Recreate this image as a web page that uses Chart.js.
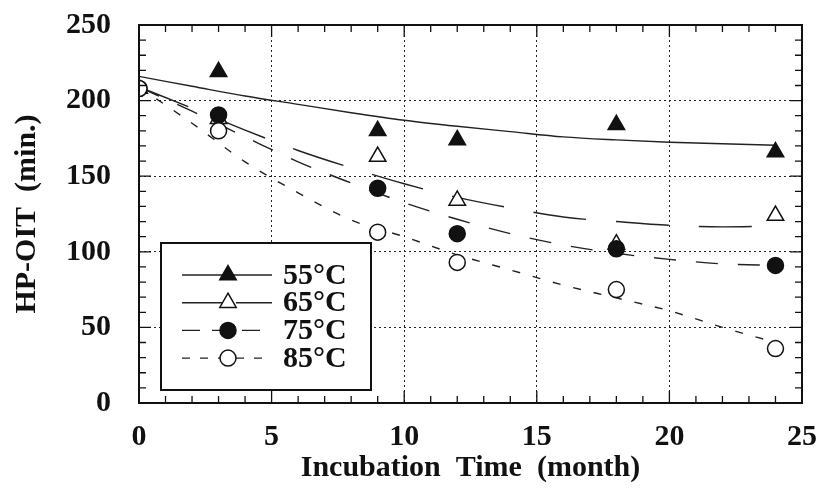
<!DOCTYPE html>
<html>
<head>
<meta charset="utf-8">
<script src="https://cdn.jsdelivr.net/npm/chart.js@4.4.1/dist/chart.umd.min.js"></script>
<style>
  body { margin: 0; background: #fff; }
  #wrap { width: 821px; height: 489px; position: relative; }
</style>
</head>
<body>
<div id="wrap"><canvas id="oitChart"></canvas></div>
<script>
// measured HP-OIT (min.) at each incubation time (month)
const months = [0, 3, 9, 12, 18, 24];
const oit55 = [208, 219, 180, 174, 184, 166];
const oit65 = [208, 188, 163, 134, 105, 124];
const oit75 = [208, 190.5, 142, 112, 102, 91];
const oit85 = [208, 180, 113, 93, 75, 36];

// fitted curves
const fitMonths = [0, 2, 4, 6, 8, 10, 12, 14, 16, 18, 20, 22, 24];
const fit55 = [216, 209.5, 203, 197.5, 192, 187, 183, 179.5, 176, 174, 172.5, 171.5, 170.5];
const fit65 = [209, 195, 180.5, 167, 155.5, 145, 136, 129, 123, 120, 117.5, 116.5, 117];
const fit75 = [209, 193, 176, 159.5, 145.5, 132.5, 121.5, 112, 104.5, 99, 95, 92, 91];
const fit85 = [209, 185, 159.5, 139, 121, 110, 98, 88, 78, 69.5, 61, 50, 40];

const seriesLabels = ['55°C', '65°C', '75°C', '85°C'];
const xTicks = [0, 5, 10, 15, 20, 25];
const yTicks = [0, 50, 100, 150, 200, 250];

const serif = '"Liberation Serif", "Times New Roman", serif';
const ink = '#111';

// line style + marker per temperature
const styles = [
    { dash: [], legendDash: [], marker: 'triangle', fill: ink },
    { dash: [53, 30], legendDash: [40, 14], marker: 'triangle', fill: '#fff' },
    { dash: [22, 20], legendDash: [18, 12], marker: 'circle', fill: ink },
    { dash: [8, 13], legendDash: [8, 10], marker: 'circle', fill: '#fff' }
];

const pts = (xs, ys) => xs.map((x, i) => ({ x: x, y: ys[i] }));

const fits = [fit55, fit65, fit75, fit85];
const measured = [oit55, oit65, oit75, oit85];

const datasets = [];
fits.forEach((f, i) => {
    datasets.push({
        label: seriesLabels[i] + ' fit',
        data: pts(fitMonths, f),
        showLine: true,
        borderColor: '#222',
        borderWidth: 1.4,
        borderDash: styles[i].dash,
        pointRadius: 0,
        cubicInterpolationMode: 'monotone',
        fill: false,
        order: 10
    });
});
measured.forEach((m, i) => {
    datasets.push({
        label: seriesLabels[i],
        data: pts(months, m),
        showLine: false,
        pointStyle: styles[i].marker,
        pointRadius: styles[i].marker === 'triangle' ? 9.5 : 8,
        pointBackgroundColor: styles[i].fill,
        pointBorderColor: ink,
        pointBorderWidth: 1.5,
        order: 4 - i
    });
});

// frame box and inward minor ticks on all four sides
const framePlugin = {
    id: 'frame',
    afterDatasetsDraw(chart) {
        const { ctx, chartArea: a, scales: { x, y } } = chart;
        ctx.save();
        ctx.strokeStyle = ink;
        ctx.lineWidth = 1.3;
        ctx.beginPath();
        for (let m = 0; m <= 25; m++) {
            const px = x.getPixelForValue(m);
            const len = m % 5 === 0 ? 12 : 7;
            ctx.moveTo(px, a.bottom); ctx.lineTo(px, a.bottom - len);
            ctx.moveTo(px, a.top); ctx.lineTo(px, a.top + len);
        }
        for (let v = 0; v <= 250; v += 10) {
            const py = y.getPixelForValue(v);
            const len = v % 50 === 0 ? 12 : 7;
            ctx.moveTo(a.left, py); ctx.lineTo(a.left + len, py);
            ctx.moveTo(a.right, py); ctx.lineTo(a.right - len, py);
        }
        ctx.stroke();
        ctx.lineWidth = 2;
        ctx.strokeRect(a.left, a.top, a.width, a.height);
        ctx.restore();
    }
};

// boxed legend inside the plot, lower left
const legendPlugin = {
    id: 'boxLegend',
    afterDraw(chart) {
        const { ctx, chartArea: a } = chart;
        const left = a.left + 22, top = a.top + 218, w = 210, h = 147;
        ctx.save();
        ctx.fillStyle = '#fff';
        ctx.fillRect(left, top, w, h);
        ctx.strokeStyle = ink;
        ctx.lineWidth = 2;
        ctx.strokeRect(left, top, w, h);
        seriesLabels.forEach((lab, i) => {
            const cy = top + 32 + i * 27.7;
            const st = styles[i];
            ctx.strokeStyle = '#222';
            ctx.lineWidth = 1.4;
            ctx.setLineDash(st.legendDash);
            ctx.beginPath();
            ctx.moveTo(left + 21, cy);
            ctx.lineTo(left + 111, cy);
            ctx.stroke();
            ctx.setLineDash([]);
            const mx = left + 67;
            ctx.fillStyle = st.fill;
            ctx.strokeStyle = ink;
            ctx.lineWidth = 1.5;
            ctx.beginPath();
            if (st.marker === 'triangle') {
                const r = 9.5;
                ctx.moveTo(mx, cy - r);
                ctx.lineTo(mx + r * 0.866, cy + r * 0.5);
                ctx.lineTo(mx - r * 0.866, cy + r * 0.5);
                ctx.closePath();
            } else {
                ctx.arc(mx, cy, 8, 0, Math.PI * 2);
            }
            ctx.fill();
            ctx.stroke();
            ctx.fillStyle = ink;
            ctx.font = 'bold 30px ' + serif;
            ctx.textBaseline = 'middle';
            ctx.textAlign = 'left';
            ctx.fillText(lab, left + 122, cy + 1);
        });
        ctx.restore();
    }
};

const config = {
    type: 'scatter',
    data: { datasets: datasets },
    options: {
        responsive: true,
        maintainAspectRatio: false,
        animation: false,
        layout: { padding: { top: 25, right: 19, left: 0, bottom: 0 } },
        plugins: {
            legend: { display: false },
            tooltip: { enabled: false }
        },
        scales: {
            x: {
                type: 'linear',
                min: 0,
                max: 25,
                afterBuildTicks: s => { s.ticks = xTicks.map(v => ({ value: v })); },
                afterFit: s => { s.height = 86; s.paddingLeft = 0; s.paddingRight = 0; },
                grid: {
                    color: ctx => (ctx.tick && (ctx.tick.value === 0 || ctx.tick.value === 25)) ? 'rgba(0,0,0,0)' : '#222',
                    lineWidth: 1,
                    drawTicks: false
                },
                border: { display: false, dash: [2, 3] },
                ticks: {
                    color: ink,
                    padding: 16,
                    maxRotation: 0,
                    font: { family: serif, size: 30, weight: 'bold' }
                },
                title: {
                    display: true,
                    text: 'Incubation  Time  (month)',
                    color: ink,
                    padding: { top: 0, bottom: 3 },
                    font: { family: serif, size: 30, weight: 'bold' }
                }
            },
            y: {
                min: 0,
                max: 250,
                afterBuildTicks: s => { s.ticks = yTicks.map(v => ({ value: v })); },
                afterFit: s => { s.width = 139; s.paddingTop = 0; s.paddingBottom = 0; },
                grid: {
                    color: ctx => (ctx.tick && (ctx.tick.value === 0 || ctx.tick.value === 250)) ? 'rgba(0,0,0,0)' : '#222',
                    lineWidth: 1,
                    drawTicks: false
                },
                border: { display: false, dash: [2, 3] },
                ticks: {
                    color: ink,
                    padding: 28,
                    font: { family: serif, size: 30, weight: 'bold' }
                },
                title: {
                    display: true,
                    text: 'HP-OIT  (min.)',
                    color: ink,
                    padding: { top: 9, bottom: 0 },
                    font: { family: serif, size: 30, weight: 'bold' }
                }
            }
        }
    },
    plugins: [framePlugin, legendPlugin]
};

const oitChart = new Chart(document.getElementById('oitChart'), config);
</script>
</body>
</html>
